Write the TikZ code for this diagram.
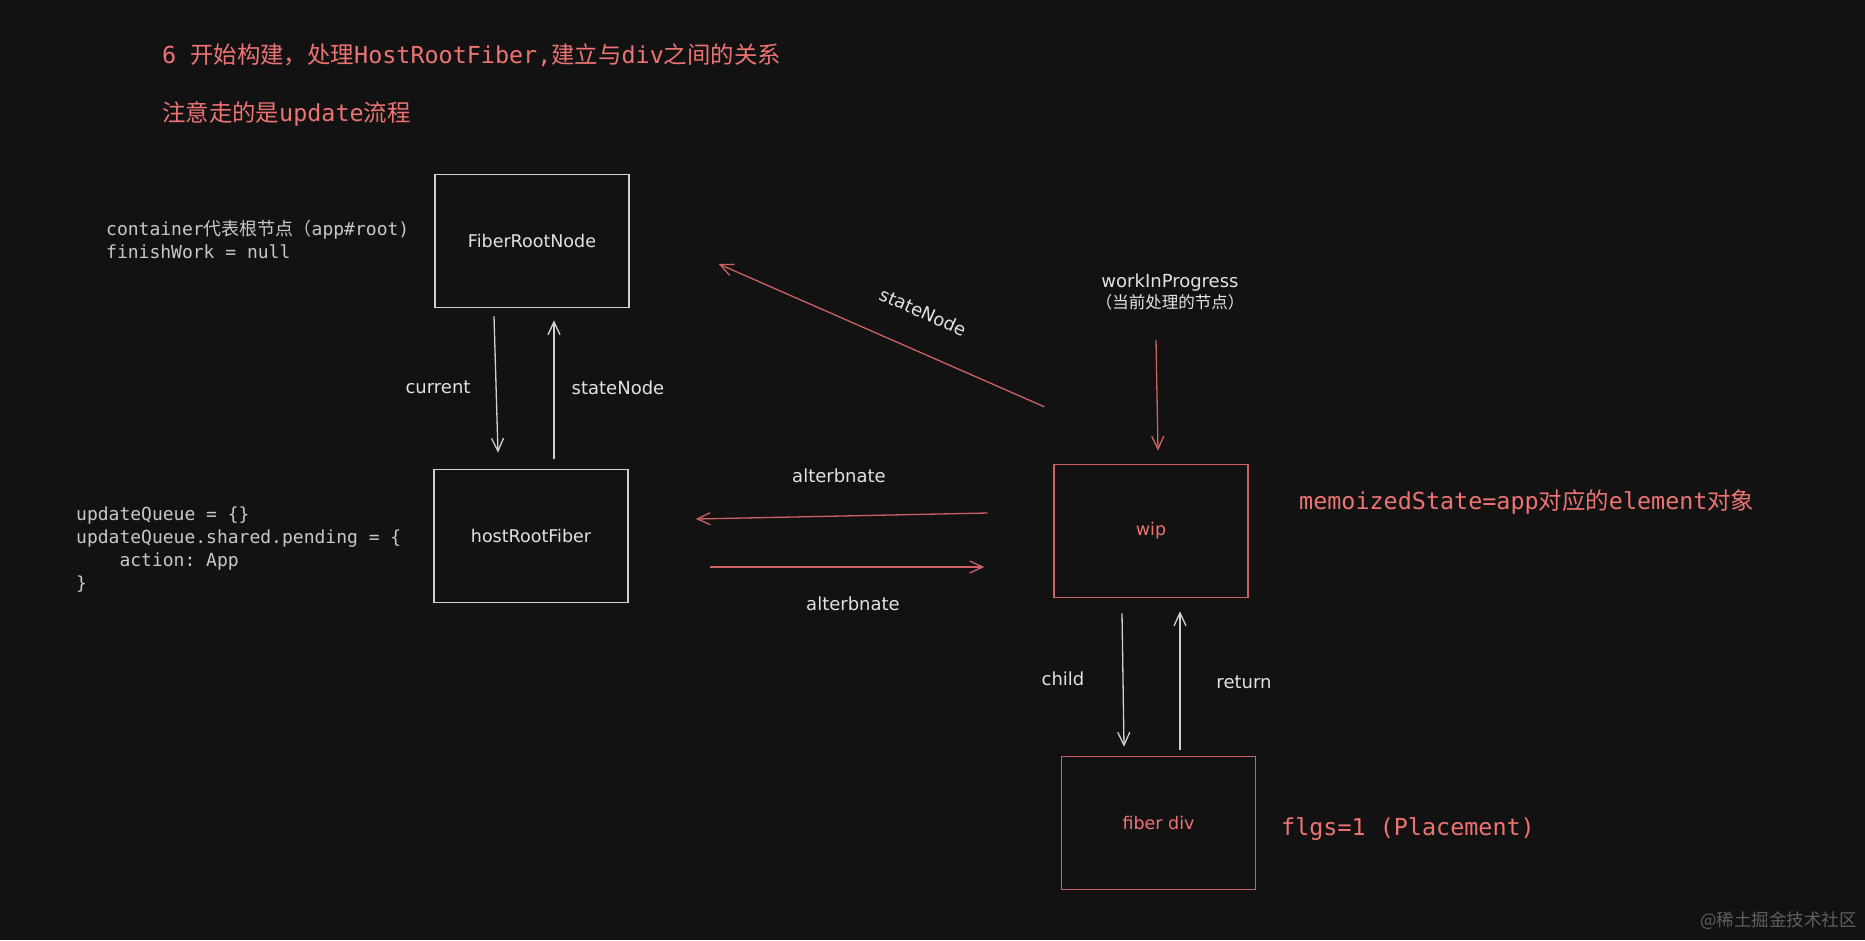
\documentclass[tikz,border=0pt]{standalone}
\usepackage{fontspec}
\setmainfont{DejaVu Sans}
\setmonofont{DejaVu Sans Mono}
\newfontfamily\cjk{Noto Sans CJK SC}
\usetikzlibrary{arrows.meta}
\definecolor{bgc}{RGB}{18,18,18}
\definecolor{wstroke}{RGB}{208,208,208}
\definecolor{wtext}{RGB}{226,226,226}
\definecolor{codec}{RGB}{200,200,200}
\definecolor{redt}{RGB}{238,115,115}
\definecolor{reds}{RGB}{205,98,98}
\definecolor{wmark}{RGB}{95,95,95}
\newcommand\zh[1]{{\cjk #1}}
\tikzset{
  wbox/.style={draw=wstroke, line width=1.5pt, minimum width=194pt, minimum height=133pt, inner sep=0pt, text=wtext, font=\fontsize{17.5}{20}\selectfont},
  rbox/.style={wbox, draw=reds, text=redt},
  warr/.style={draw=wstroke, line width=1.3pt, -{Straight Barb[length=13pt,width=12pt,line width=1.3pt]}},
  rarr/.style={warr, draw=reds},
  hlabel/.style={text=wtext, inner sep=0pt, font=\fontsize{18}{22}\selectfont},
  codet/.style={text=codec, inner sep=0pt, align=left, font=\ttfamily\fontsize{18}{23}\selectfont},
  redtext/.style={text=redt, inner sep=0pt, anchor=west, font=\ttfamily\fontsize{23.4}{28}\selectfont}
}
\begin{document}
\begin{tikzpicture}[x=1pt,y=-1pt]
\fill[bgc] (0,0) rectangle (1865,940);
\useasboundingbox (0,0) rectangle (1865,940);

% titles
\node[redtext] (t1) at (162,55) {6 \zh{开始构建，处理}HostRootFiber,\zh{建立与}div\zh{之间的关系}};
\node[redtext] (t2) at (162,114) {\zh{注意走的是}update\zh{流程}};

% boxes
\node[wbox] (frn) at (532,241) {FiberRootNode};
\node[wbox] (hrf) at (531,536) {hostRootFiber};
\node[rbox] (wip) at (1151,531) {wip};
\node[rbox] (div) at (1158.5,823) {fiber div};

% code notes
\node[codet, anchor=west] (n1) at (106,239) {container\zh{代表根节点（}app\#root)\\finishWork = null};
\node[codet, anchor=west] (n2) at (76,549.5) {updateQueue = \{\}\\updateQueue.shared.pending = \{\\\phantom{0000}action: App\\\}};

\node[redtext] (memo) at (1299,502) {memoizedState=app\zh{对应的}element\zh{对象}};
\node[redtext] (flgs) at (1281,829) {flgs=1 (Placement)};

% workInProgress label
\node[hlabel, align=center] (wipl) at (1170,292) {workInProgress\\[-1pt]{\cjk\fontsize{16.5}{20}\selectfont （当前处理的节点）}};

% arrows
\draw[warr] ([shift={(-38,8)}]frn.south) -- ([shift={(-33,-16)}]hrf.north);
\draw[warr] ([shift={(23,-10)}]hrf.north) -- ([shift={(22,12)}]frn.south);
\draw[rarr] ([shift={(-9,-57)}]wip.north west) -- ([shift={(89,23)}]frn.east);
\draw[rarr] ([shift={(-14,30)}]wipl.south) -- ([shift={(7,-13)}]wip.north);
\draw[rarr] ([shift={(-66,-18)}]wip.west) -- ([shift={(67,-17)}]hrf.east);
\draw[rarr] ([shift={(81,31)}]hrf.east) -- ([shift={(-69,36)}]wip.west);
\draw[warr] ([shift={(-29,15)}]wip.south) -- ([shift={(-34.5,-9)}]div.north);
\draw[warr] ([shift={(21.5,-6)}]div.north) -- ([shift={(29,13)}]wip.south);

% edge labels
\node[hlabel] (lcur) at (438,387) {current};
\node[hlabel] (lsn1) at (618,388) {stateNode};
\node[hlabel, rotate=-24] (lsn2) at (923,312) {stateNode};
\node[hlabel] (lalt1) at (839,476) {alterbnate};
\node[hlabel] (lalt2) at (853,604) {alterbnate};
\node[hlabel] (lchild) at (1063,679) {child};
\node[hlabel] (lret) at (1244,682) {return};

% watermark
\node[anchor=east, inner sep=0pt, text=wmark, font=\cjk\fontsize{17.5}{20}\selectfont] (wm) at (1857,921) {@稀土掘金技术社区};
\end{tikzpicture}
\end{document}
